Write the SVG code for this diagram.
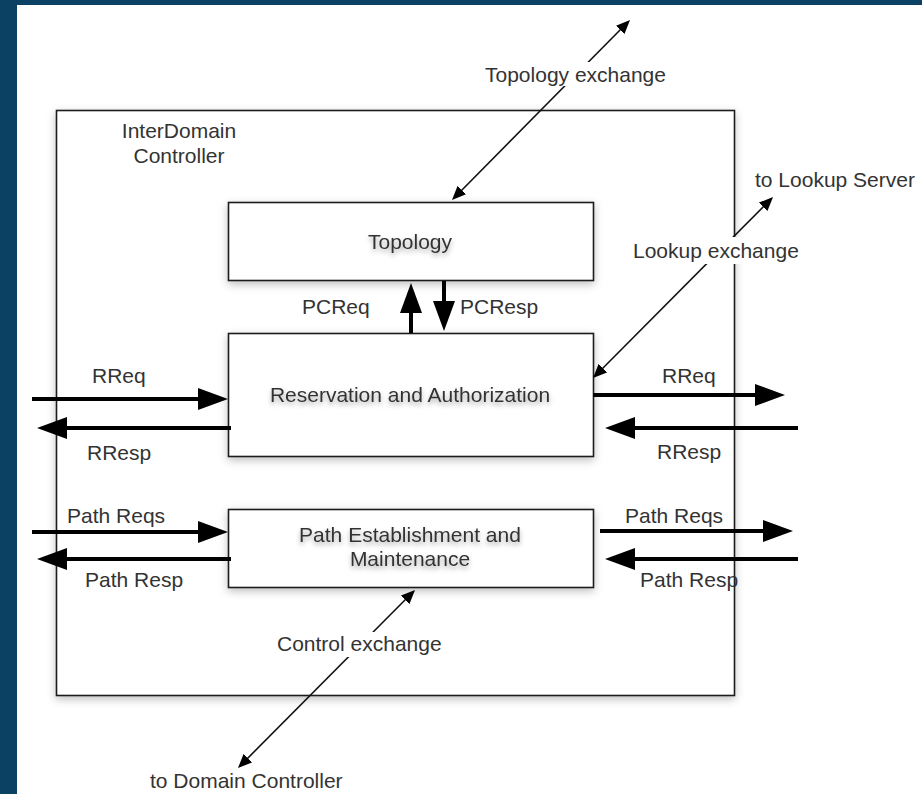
<svg xmlns="http://www.w3.org/2000/svg" width="922" height="794" viewBox="0 0 922 794">
<style>
.box{fill:#fff;stroke:#1a1a1a;stroke-width:1.6;filter:url(#sh)}
.lbl{font-family:"Liberation Sans",Arial,sans-serif;font-size:21px;fill:#333}
.in{text-anchor:middle;filter:url(#tsh)}
.thick{stroke:#000;stroke-width:4;fill:none;marker-end:url(#big)}
.thin{stroke:#111;stroke-width:1.6;fill:none;marker-end:url(#small);marker-start:url(#small)}
.gap{fill:#fff}
</style>
<defs>
<filter id="sh" x="-10%" y="-10%" width="120%" height="130%"><feDropShadow dx="0" dy="3" stdDeviation="4" flood-color="#000" flood-opacity="0.25"/></filter>
<filter id="tsh" x="-10%" y="-30%" width="120%" height="180%"><feDropShadow dx="0" dy="3" stdDeviation="2.5" flood-color="#000" flood-opacity="0.35"/></filter>
<marker id="big" viewBox="0 0 30 22" refX="18" refY="11" markerWidth="30" markerHeight="22" markerUnits="userSpaceOnUse" orient="auto"><path d="M0,0 L30,11 L0,22 z" fill="#000"/></marker>
<marker id="small" viewBox="0 0 14 12" refX="10" refY="6" markerWidth="14" markerHeight="12" markerUnits="userSpaceOnUse" orient="auto-start-reverse"><path d="M0,0 L14,6 L0,12 z" fill="#000"/></marker>
</defs>
<rect x="0" y="0" width="922" height="794" fill="#0b4264"/>
<rect x="17" y="5" width="905" height="789" fill="#fff"/>

<g id="interdomain-controller">
<rect class="box" x="56.5" y="110.5" width="678" height="585"/>
<text class="lbl" x="179" y="138" text-anchor="middle">InterDomain</text>
<text class="lbl" x="179" y="163" text-anchor="middle">Controller</text>
</g>
<g id="topology">
<rect class="box" x="228.5" y="202.5" width="365" height="78"/>
<text class="lbl in" x="410" y="249">Topology</text>
</g>
<g id="reservation">
<rect class="box" x="228.5" y="333.5" width="365" height="123"/>
<text class="lbl in" x="410" y="402">Reservation and Authorization</text>
</g>
<g id="path-establishment">
<rect class="box" x="228.5" y="509.5" width="365" height="78"/>
<text class="lbl in" x="410" y="542">Path Establishment and</text>
<text class="lbl in" x="410" y="566">Maintenance</text>
</g>

<g id="connectors">
<path class="thick" d="M32,399 L216,399"/>
<path class="thick" d="M231,428 L49,428"/>
<path class="thick" d="M593,395 L773,395"/>
<path class="thick" d="M798,428 L617,428"/>
<path class="thick" d="M32,532 L216,532"/>
<path class="thick" d="M231,559 L49,559"/>
<path class="thick" d="M600,531 L781,531"/>
<path class="thick" d="M798,559 L617,559"/>
<path class="thick" d="M411,333 L411,295"/>
<path class="thick" d="M444,281 L444,319"/>
<path class="thin" d="M454.8,197.2 L627.2,22.8"/>
<path class="thin" d="M595.8,375.2 L770.2,199.8"/>
<path class="thin" d="M240.8,765.2 L412.2,592.8"/>
</g>

<g id="labels">
<rect class="gap" x="483" y="62" width="184" height="24"/>
<text class="lbl" x="485" y="82">Topology exchange</text>
<rect class="gap" x="631" y="237" width="171" height="27"/>
<text class="lbl" x="633" y="258">Lookup exchange</text>
<text class="lbl" x="755" y="187">to Lookup Server</text>
<rect class="gap" x="275" y="632" width="169" height="25"/>
<text class="lbl" x="277" y="651">Control exchange</text>
<text class="lbl" x="150" y="788">to Domain Controller</text>
<text class="lbl" x="302" y="314">PCReq</text>
<text class="lbl" x="460" y="314">PCResp</text>
<text class="lbl" x="92" y="383">RReq</text>
<text class="lbl" x="87" y="460">RResp</text>
<text class="lbl" x="662" y="383">RReq</text>
<text class="lbl" x="657" y="459">RResp</text>
<text class="lbl" x="67" y="523">Path Reqs</text>
<text class="lbl" x="85" y="587">Path Resp</text>
<text class="lbl" x="625" y="523">Path Reqs</text>
<text class="lbl" x="640" y="587">Path Resp</text>
</g>
</svg>
